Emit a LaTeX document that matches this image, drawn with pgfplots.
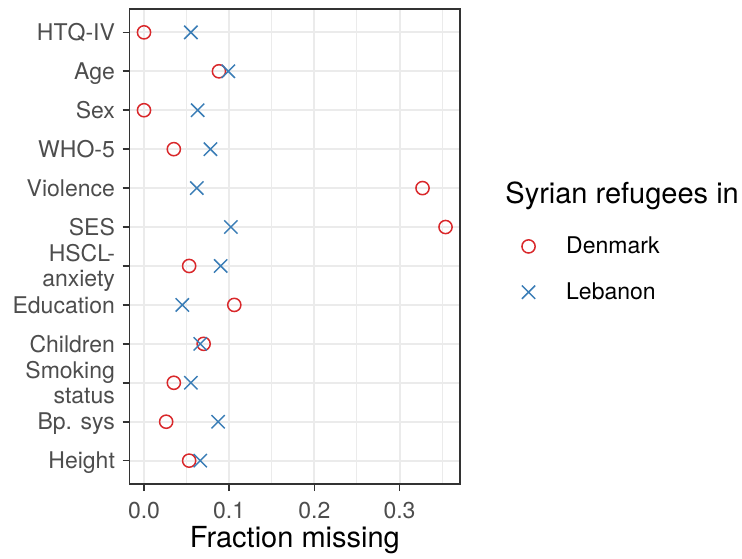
\documentclass[border=0pt]{standalone}
\usepackage{fontspec}
\setmainfont{TeX Gyre Heros}
\usepackage{pgfplots}
\pgfplotsset{compat=1.18}
\definecolor{dkred}{HTML}{D9282B}
\definecolor{lbblue}{HTML}{3A7DB6}
\definecolor{gridgrey}{HTML}{EBEBEB}
\definecolor{txtgrey}{HTML}{4D4D4D}
\definecolor{axgrey}{HTML}{333333}
\newcommand{\two}[2]{\raisebox{6.3pt}{\begin{tabular}[t]{@{}r@{}}#1\\#2\end{tabular}}}
\begin{document}
\begin{tikzpicture}[x=1pt,y=1pt]
\path[use as bounding box] (0,0) rectangle (371,279);
\begin{axis}[
  at={(64.85pt,37pt)}, anchor=south west,
  width=165.15pt, height=237.5pt, scale only axis,
  xmin=-0.0168, xmax=0.371, ymin=0.4, ymax=12.6,
  ytick={1,2,3,4,5,6,7,8,9,10,11,12},
  yticklabels={Height, Bp. sys, \two{Smoking}{status}, Children, Education, \two{HSCL-}{anxiety}, SES, Violence, WHO-5, Sex, Age, HTQ-IV},
  xtick={0,0.1,0.2,0.3},
  xticklabels={0.0,0.1,0.2,0.3},
  minor xtick={0.05,0.15,0.25,0.35},
  grid=both,
  major grid style={gridgrey, line width=1pt},
  minor grid style={gridgrey, line width=0.5pt},
  axis line style={axgrey, line width=0.7pt},
  tick style={axgrey, line width=0.8pt},
  major tick length=3.5pt, minor tick length=0pt,
  tick align=outside,
  xtick pos=bottom, ytick pos=left,
  yticklabel style={font=\fontsize{11.5}{12.4}\selectfont, text=txtgrey, inner sep=0pt, anchor=base east, xshift=-3.7pt, yshift=-4.13pt},
  xticklabel style={font=\fontsize{11.5}{12.5}\selectfont, text=txtgrey, inner sep=0pt, anchor=base, yshift=-13.5pt},
  xlabel={Fraction missing},
  xlabel style={font=\fontsize{14.5}{16}\selectfont, anchor=base, at={(axis description cs:0.5,-0.1347)}},
  legend style={at={(axis description cs:1.168,0.452)}, anchor=west, draw=none, fill=none,
    font=\fontsize{11.5}{12.5}\selectfont, row sep=9pt,
    /tikz/every odd column/.append style={column sep=13.5pt}},
  legend cell align=left,
]
\addplot[only marks, mark=o, mark size=3.3pt, dkred, line width=0.75pt] coordinates {
(0.053,1) (0.026,2) (0.035,3) (0.070,4) (0.106,5) (0.053,6) (0.354,7) (0.327,8) (0.035,9) (0.0,10) (0.088,11) (0.0,12)};
\addlegendentry{Denmark}
\addplot[only marks, mark=x, mark size=4.7pt, lbblue, line width=0.75pt] coordinates {
(0.066,1) (0.087,2) (0.055,3) (0.066,4) (0.045,5) (0.090,6) (0.102,7) (0.062,8) (0.078,9) (0.063,10) (0.099,11) (0.055,12)};
\addlegendentry{Lebanon}
\end{axis}
\node[anchor=base west, inner sep=0pt, font=\fontsize{14.5}{16}\selectfont] at (252.5,177.5) {Syrian refugees in};
\end{tikzpicture}
\end{document}
